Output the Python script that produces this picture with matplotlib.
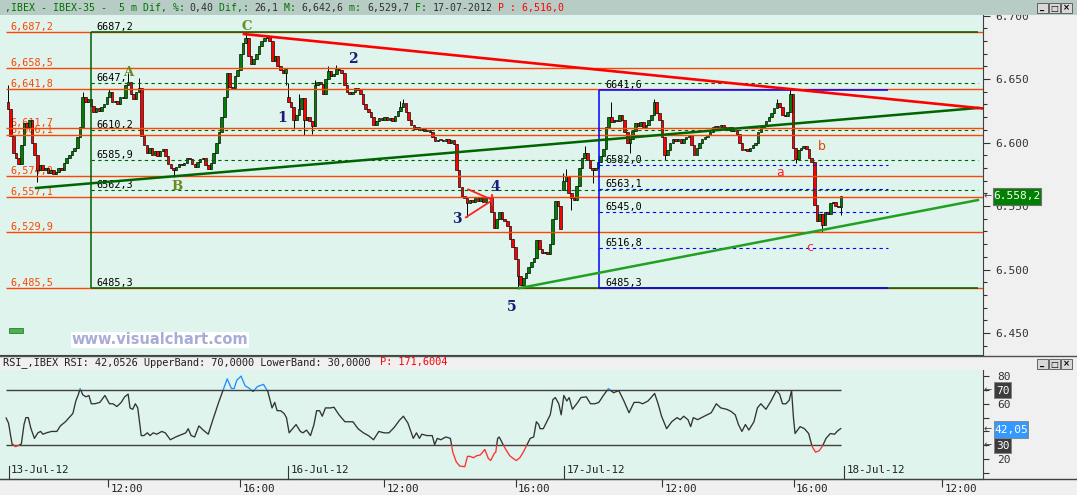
import numpy as np
import matplotlib
matplotlib.use("Agg")
import matplotlib.pyplot as plt
from matplotlib.patches import Rectangle
from matplotlib.ticker import FixedLocator, MultipleLocator, FuncFormatter

W, H = 1077, 495
MONO = "DejaVu Sans Mono"

# IBEX-35, 5 minute bars from 13-Jul-12 09:00 to the 17-Jul-12 close (bar index on x)
closes = [
    6626, 6605, 6592, 6588, 6583, 6598, 6615, 6612, 6618, 6600, 6590, 6578,
    6582, 6578, 6580, 6576, 6578, 6575, 6577, 6580, 6578, 6584, 6588, 6590,
    6593, 6596, 6604, 6612, 6636, 6632, 6634, 6629, 6624, 6627, 6625, 6628,
    6630, 6636, 6640, 6632, 6633, 6630, 6636, 6635, 6645, 6648, 6638, 6634,
    6640, 6643, 6605, 6598, 6592, 6596, 6590, 6593, 6589, 6593, 6595, 6589,
    6583, 6580, 6578, 6581, 6583, 6582, 6584, 6588, 6587, 6583, 6581, 6585,
    6587, 6588, 6582, 6579, 6584, 6592, 6600, 6608, 6620, 6636, 6655, 6644,
    6643, 6652, 6657, 6670, 6678, 6682, 6668, 6662, 6666, 6670, 6676, 6680,
    6682, 6683, 6680, 6664, 6668, 6660, 6657, 6655, 6658, 6632, 6628, 6618,
    6622, 6626, 6635, 6618, 6620, 6617, 6613, 6645, 6648, 6646, 6638, 6650,
    6656, 6652, 6654, 6658, 6657, 6655, 6645, 6640, 6638, 6640, 6643, 6641,
    6638, 6630, 6626, 6624, 6620, 6614, 6617, 6619, 6618, 6620, 6618, 6619,
    6617, 6621, 6625, 6628, 6631, 6624, 6618, 6614, 6611, 6612, 6610, 6611,
    6609, 6610, 6608, 6604, 6601, 6602, 6602, 6601, 6603, 6600, 6602, 6599,
    6578, 6565, 6558, 6556, 6552, 6555, 6553, 6556, 6554, 6556, 6553, 6556,
    6557, 6545, 6533, 6540, 6545, 6540, 6538, 6534, 6524, 6518, 6508, 6495,
    6488, 6493, 6497, 6502, 6506, 6509, 6523, 6516, 6513, 6514, 6512, 6520,
    6540, 6554, 6550, 6532, 6570, 6574, 6560, 6556, 6555, 6566, 6580, 6588,
    6592, 6586, 6580, 6578, 6580, 6585, 6589, 6595, 6612, 6620, 6616, 6618,
    6617, 6622, 6618, 6608, 6600, 6603, 6609, 6615, 6613, 6616, 6612, 6614,
    6618, 6622, 6632, 6623, 6618, 6604, 6590, 6594, 6600, 6603, 6601, 6603,
    6600, 6603, 6604, 6606, 6598, 6590, 6596, 6600, 6603, 6604, 6606, 6608,
    6612, 6613, 6612, 6614, 6612, 6610, 6612, 6609, 6610, 6607, 6600, 6594,
    6595, 6593, 6596, 6598, 6600, 6608, 6612, 6614, 6617, 6620, 6623, 6627,
    6631, 6628, 6622, 6621, 6624, 6638, 6596, 6587, 6594, 6596, 6597, 6595,
    6588, 6585, 6551, 6538, 6544, 6535, 6545, 6544, 6552, 6553, 6550, 6549,
    6558.2,
]
first_open = 6632
session_opens = {105: 6636, 208: 6563}
highs = {0: 6645, 28: 6640, 38: 6642, 45: 6655, 49: 6651, 89: 6686, 97: 6685,
         105: 6647, 109: 6638, 115: 6649, 120: 6660, 123: 6661, 147: 6633,
         148: 6634, 208: 6576, 209: 6579, 216: 6597, 226: 6632, 242: 6634,
         288: 6634, 293: 6642.6}
lows = {11: 6569, 62: 6573, 104: 6645, 107: 6611, 111: 6606, 114: 6607,
        172: 6541, 191: 6485.3, 211: 6547, 219: 6568, 233: 6592, 246: 6586,
        295: 6584, 305: 6529.7, 312: 6543}

# RSI(14): bar position, value
rsi_pos = [-0.7, 0.2, 1.5, 2.8, 4.1, 5.0, 6.0, 6.7, 7.6, 8.6, 9.9, 11.2, 12.2, 13.1,
           14.4, 16.3, 18.3, 19.6, 21.5, 23.4, 24.3, 25.4, 26.4, 27.0, 28.0, 29.2,
           30.3, 31.2, 32.5, 34.4, 36.3, 38.0, 39.3, 40.8, 42.4, 43.7, 45.0, 45.7,
           46.7, 47.7, 48.6, 49.9, 50.9, 52.2, 53.2, 54.4, 55.7, 57.6, 58.9, 60.8,
           62.8, 65.4, 66.6, 67.5, 68.6, 69.9, 71.5, 73.1, 75.0, 77.0, 78.9, 80.6,
           82.1, 83.7, 84.7, 85.7, 87.3, 88.8, 90.1, 91.8, 93.5, 95.7, 97.3, 98.9,
           99.9, 100.8, 102.1, 103.4, 104.3, 105.3, 106.6, 107.9, 109.5, 110.5,
           111.8, 113.3, 114.6, 115.6, 116.7, 117.7, 118.9, 120.8, 122.1, 124.0,
           126.2, 127.9, 129.2, 131.1, 133.1, 135.0, 136.9, 138.9, 140.8, 142.7,
           144.7, 146.6, 148.1, 149.8, 151.8, 153.0, 154.1, 155.0, 156.9, 158.9,
           159.8, 160.8, 162.1, 164.0, 165.7, 166.6, 167.9, 169.2, 171.1, 172.1,
           173.0, 174.3, 175.6, 176.9, 178.6, 179.9, 180.8, 182.1, 182.7, 183.4,
           184.0, 185.3, 186.3, 187.9, 189.2, 190.4, 191.7, 193.0, 194.3, 195.6,
           196.9, 197.9, 198.8, 199.3, 200.5, 201.8, 203.1, 204.1, 205.0, 206.3,
           207.2, 208.2, 209.3, 210.2, 211.4, 213.4, 214.6, 216.6, 218.2, 219.8,
           221.3, 223.0, 224.9, 226.8, 228.8, 230.7, 232.6, 234.5, 236.4, 237.7,
           239.7, 240.9, 242.2, 243.5, 244.8, 246.7, 248.6, 250.6, 251.8, 253.1,
           254.7, 255.7, 256.7, 258.3, 260.8, 263.4, 265.3, 267.0, 269.2, 270.8,
           272.4, 273.6, 274.9, 276.2, 277.5, 279.4, 280.7, 282.0, 283.9, 285.8,
           287.8, 289.0, 290.1, 291.4, 292.6, 293.5, 294.2, 294.8, 296.7, 298.3,
           299.9, 301.2, 302.5, 303.8, 305.1, 306.4, 308.0, 309.6, 310.8, 311.9]
rsi_val = [49.7, 46, 31, 29, 30, 31, 45, 50, 50, 42, 35, 39, 40, 38,
           39, 40, 40, 44, 47, 51, 53, 62, 67, 71, 66.5, 65,
           66, 60, 60, 61, 66, 60, 60, 58, 61, 65, 67, 57,
           56, 60, 57, 37, 37, 39, 37, 39, 38, 40, 39, 34,
           36, 38, 39, 42, 37, 36, 44, 41, 38, 50, 61, 70,
           78, 71, 71, 77, 80, 73, 71.5, 69, 72.5, 74, 69, 57,
           61, 55, 55, 53, 50, 39, 42, 45, 40, 39,
           41, 37, 45, 55, 55, 51, 57, 57, 57.5, 52,
           47, 47, 47, 42, 39, 37, 34, 40, 39, 39,
           43, 48, 51, 46, 35, 39, 35, 38, 37, 37,
           30.5, 35, 34, 36, 35, 25, 18, 15, 14.5, 22,
           22, 21, 22.5, 23, 27, 20.5, 19, 24, 25, 35,
           36, 31, 27.5, 22.5, 20.5, 19, 21, 25, 30, 35,
           36, 47, 45, 42, 42, 47, 52, 63, 64.5, 60,
           52, 66, 62, 64.5, 56, 61, 64.5, 65, 60, 60,
           61, 66, 71, 68, 69.5, 62, 53.5, 61, 61, 60,
           62, 64.5, 67.5, 60, 51, 42, 47, 50, 48.5, 51,
           48.5, 43.5, 50, 48.5, 51, 53.5, 60, 57, 56, 54.5,
           52, 45, 40, 45, 41, 47, 57, 60, 56, 62,
           69.5, 67, 60, 60, 62.5, 69.5, 50, 38.5, 43.5, 42,
           38.5, 29, 25, 26, 29.5, 35, 38.5, 38, 40.5, 42.05]

# horizontal support / resistance levels (orange) with their labels
levels = [6687.2, 6658.5, 6641.8, 6611.7, 6606.1, 6574.0, 6557.1, 6529.9, 6485.5]
level_labels = ["6,687,2", "6,658,5", "6,641,8", "6,611,7", "6,606,1",
                "6,574,0", "6,557,1", "6,529,9", "6,485,5"]

# Fibonacci boxes: anchor bars, top/bottom, inner levels, labels top->bottom
fib1_bars = (31.1, 363.3)
fib1_top, fib1_bot = 6687.2, 6485.3
fib1_levels = [6647.0, 6610.2, 6585.9, 6562.3]
fib1_labels = ["6687,2", "6647,", "6610,2", "6585,9", "6562,3", "6485,3"]
fib2_bars = (221.3, 329.6)
fib2_top, fib2_bot = 6641.6, 6485.3
fib2_levels = [6582.0, 6563.1, 6545.0, 6516.8]
fib2_labels = ["6641,6", "6582,0", "6563,1", "6545,0", "6516,8", "6485,3"]

# trend lines (bar, price) end points
red_trend = ([88.4, 365.2], [6685.4, 6626.8])
dkgreen_trend = ([10.5, 363.3], [6564.2, 6627.2])
ltgreen_trend = ([191.4, 363.3], [6485.3, 6554.7])
wedge_bars = [172.4, 181.5, 171.5]
wedge_prices = [6563.1, 6554.7, 6541.1]

# wave labels
abc_text = ["A", "B", "C"]
abc_bar = [44.9, 63.3, 89.5]
abc_price = [6655.5, 6565.0, 6691.7]
num_text = ["1", "2", "3", "4", "5"]
num_bar = [102.5, 129.1, 168.0, 182.4, 188.8]
num_price = [6619.0, 6665.5, 6540.0, 6565.2, 6470.5]
small_text = ["a", "b", "c"]
small_bar = [289.1, 304.9, 300.4]
small_price = [6576.0, 6596.5, 6517.0]
small_color = ["#ff2020", "#e84000", "#ff2050"]

# time axis
time_labels = ["12:00", "16:00", "12:00", "16:00", "12:00", "16:00", "12:00"]
time_pos = [37.4, 86.9, 140.9, 190.1, 245.0, 294.3, 349.8]
day_labels = ["13-Jul-12", "16-Jul-12", "17-Jul-12", "18-Jul-12"]
day_pos = [0.2, 104.9, 208.3, 313.1]

XMIN, XMAX = -3.0, 365.2
MINT = "#dff4ed"
ORANGE = "#ff4500"


def fx(px):
    return px / W


def fy(py):
    return 1 - py / H


fig = plt.figure(figsize=(W / 100, H / 100), dpi=100, facecolor="#f0f0f0")
ax = fig.add_axes([0, fy(355), fx(983), (355 - 15) / H], facecolor=MINT)
ax2 = fig.add_axes([0, fy(478.5), fx(983), (478.5 - 370) / H], facecolor=MINT)

# ---- candles
idx = np.arange(len(closes))
c = np.array(closes, dtype=float)
o = np.concatenate([[first_open], c[:-1]])
for k, v in session_opens.items():
    o[k] = v
hi = np.maximum(o, c)
lo = np.minimum(o, c)
for k, v in highs.items():
    hi[k] = v
for k, v in lows.items():
    lo[k] = v
up = c >= o
ax.vlines(idx, lo, hi, color="black", lw=0.7, zorder=2)
body_h = np.maximum(np.abs(c - o), 0.9)
ax.bar(idx, body_h, bottom=np.minimum(o, c), width=0.95,
       color=np.where(up, "#008000", "#ff0000"), edgecolor="black",
       linewidth=0.45, zorder=2.2)

# ---- levels
ax.hlines(levels, -0.75, XMAX, color=ORANGE, lw=1.0, zorder=3)
for lv, lb in zip(levels, level_labels):
    ax.text(1.0, lv, lb, color=ORANGE, fontsize=7.3, family=MONO,
            ha="left", va="bottom", zorder=1.5)

# fib box 1 (dark green)
x0, x1 = fib1_bars
ax.hlines([fib1_top, fib1_bot], x0, x1, color="#006000", lw=1.1, zorder=3.2)
ax.vlines(x0, fib1_bot, fib1_top, color="#006000", lw=1.1, zorder=3.2)
ax.hlines(fib1_levels, x0, x1, color="#006000", lw=0.8,
          linestyles=(0, (3, 3)), zorder=3.1)
for lv, lb in zip([fib1_top] + fib1_levels + [fib1_bot], fib1_labels):
    ax.text(x0 + 2.1, lv, lb, color="black", fontsize=7.3, family=MONO,
            ha="left", va="bottom", zorder=1.6)

# fib box 2 (blue)
x0, x1 = fib2_bars
ax.hlines([fib2_top, fib2_bot], x0, x1, color="#0000ff", lw=1.1, zorder=3.3)
ax.vlines(x0, fib2_bot, fib2_top, color="#0000ff", lw=1.1, zorder=3.3)
ax.hlines(fib2_levels, x0, x1, color="#0000ff", lw=0.8,
          linestyles=(0, (3, 3)), zorder=3.1)
for lv, lb in zip([fib2_top] + fib2_levels + [fib2_bot], fib2_labels):
    ax.text(x0 + 2.3, lv, lb, color="black", fontsize=7.3, family=MONO,
            ha="left", va="bottom", zorder=1.6)

# trend lines
ax.plot(*dkgreen_trend, color="#006400", lw=1.8, zorder=4)
ax.plot(*ltgreen_trend, color="#22a022", lw=1.8, zorder=4)
ax.plot(*red_trend, color="#ff0000", lw=1.9, zorder=4.1)
ax.plot(wedge_bars, wedge_prices, color="#ff2020", lw=1.3, zorder=4)
ax.plot([wedge_bars[1] - 0.4] * 2, [wedge_prices[1] - 4, wedge_prices[1] + 4],
        color="#ff2020", lw=1.3, zorder=4)

for t, b, p in zip(abc_text, abc_bar, abc_price):
    ax.text(b, p, t, color="#6b8a1c", fontsize=9.5, family="DejaVu Serif",
            weight="bold", ha="center", va="center", zorder=6)
for t, b, p in zip(num_text, num_bar, num_price):
    ax.text(b, p, t, color="#1c1c78", fontsize=10, family="DejaVu Serif",
            weight="bold", ha="center", va="center", zorder=6)
for t, b, p, col in zip(small_text, small_bar, small_price, small_color):
    ax.text(b, p, t, color=col, fontsize=9, ha="center", va="center", zorder=6)

ax.set_xlim(XMIN, XMAX)
ax.set_ylim(6432.7, 6700.4)
ax.yaxis.tick_right()
ax.yaxis.set_major_locator(MultipleLocator(50))
ax.yaxis.set_minor_locator(MultipleLocator(10))
ax.yaxis.set_major_formatter(FuncFormatter(
    lambda v, p: f"{int(round(v)) // 1000}.{int(round(v)) % 1000:03d}"))
ax.tick_params(axis="y", which="major", length=5, width=0.8, colors="#333333",
               labelsize=8, pad=4)
ax.tick_params(axis="y", which="minor", length=3, width=0.8, colors="#333333")
ax.tick_params(axis="x", bottom=False, labelbottom=False)
for lab in ax.get_yticklabels():
    lab.set_family(MONO)
for s in ["top", "left"]:
    ax.spines[s].set_visible(False)
for s in ["right", "bottom"]:
    ax.spines[s].set_color("#404040")

# ---- RSI panel
ax2.hlines([70, 30], -0.75, 312, color="#404040", lw=1.0, zorder=2)
for col, y0, y1 in [("#333333", 30, 70), ("#1e8fff", 70, 100), ("#ff3030", 0, 30)]:
    ln, = ax2.plot(rsi_pos, rsi_val, color=col, lw=0.95, zorder=3)
    ln.set_clip_path(Rectangle((XMIN, y0), XMAX - XMIN, y1 - y0,
                               transform=ax2.transData))
ax2.set_xlim(XMIN, XMAX)
ax2.set_ylim(6.0, 84.4)
ax2.yaxis.tick_right()
ax2.yaxis.set_major_locator(FixedLocator(list(range(10, 90, 10))))
ax2.yaxis.set_major_formatter(FuncFormatter(
    lambda v, p: str(int(v)) if int(round(v)) in (20, 60, 80) else ""))
ax2.tick_params(axis="y", length=4, width=0.8, colors="#333333", labelsize=8, pad=6)
for lab in ax2.get_yticklabels():
    lab.set_family(MONO)
ax2.set_xticks(time_pos)
ax2.tick_params(axis="x", length=6, width=0.8, colors="#333333", labelbottom=False)
xt = ax2.get_xaxis_transform()
for p, lb in zip(time_pos, time_labels):
    ax2.text(p + 0.9, -0.1, lb, transform=xt, ha="left", va="center",
             fontsize=7.8, family=MONO, color="#222222")
for p, lb in zip(day_pos, day_labels):
    ax2.plot([p, p], [0, 0.115], transform=xt, color="#333333", lw=0.8,
             clip_on=False)
    ax2.text(p + 0.9, 0.075, lb, transform=xt, ha="left", va="center",
             fontsize=7.8, family=MONO, color="#222222")
for s in ["top", "left"]:
    ax2.spines[s].set_visible(False)
for s in ["right", "bottom"]:
    ax2.spines[s].set_color("#404040")


# ---- window chrome drawn in figure pixels
def pbox(x0, y0, x1, y1, **kw):
    r = Rectangle((fx(x0), fy(y1)), fx(x1) - fx(x0), fy(y0) - fy(y1),
                  transform=fig.transFigure, **kw)
    fig.add_artist(r)
    return r


def ptext(x, y, s, **kw):
    kw.setdefault("family", MONO)
    kw.setdefault("zorder", 12)
    fig.text(fx(x), fy(y), s, **kw)


pbox(0, 0, W, 15, facecolor="#b8ccc6", edgecolor="none", zorder=10)
pbox(0, 356, W, 369.5, facecolor="#f0f0f0", edgecolor="none", zorder=10)
fig.add_artist(plt.Line2D([0, 1], [fy(355.5)] * 2, color="#505050", lw=1.0,
                          transform=fig.transFigure, zorder=11))
fig.add_artist(plt.Line2D([0, 1], [fy(478.5)] * 2, color="#404040", lw=1.0,
                          transform=fig.transFigure, zorder=11))

green_txt, dark_txt, red_txt = "#007000", "#303030", "#ff0000"
header = [(",IBEX - IBEX-35 -  5 m Dif, %: ", green_txt), ("0,40", dark_txt),
          (" Dif,: ", green_txt), ("26,1", dark_txt), (" M: ", green_txt),
          ("6,642,6", dark_txt), (" m: ", green_txt), ("6,529,7", dark_txt),
          (" F: ", green_txt), ("17-07-2012", dark_txt), (" P : 6,516,0", red_txt)]
cw = 7.1 * 100 / 72 * 0.6021
n = 0
for s, col in header:
    ptext(5 + n * cw, 8, s, color=col, fontsize=7.1, va="center", ha="left")
    n += len(s)
rsi_header = [("RSI_,IBEX RSI: 42,0526 UpperBand: 70,0000 LowerBand: 30,0000 ", "#202020"),
              ("P: 171,6004", red_txt)]
cw2 = 7.4 * 100 / 72 * 0.6021
n = 0
for s, col in rsi_header:
    ptext(3 + n * cw2, 362.5, s, color=col, fontsize=7.4, va="center", ha="left")
    n += len(s)

for yb in (3, 359):
    for i, sym in enumerate(["_", "\u25a1", "\u00d7"]):
        bx = 1037 + i * 12
        pbox(bx, yb, bx + 11, yb + 10, facecolor="#d8d8d8", edgecolor="#505050",
             lw=0.6, zorder=11)
        ptext(bx + 5.5, yb + 5, sym, color="black", fontsize=6, ha="center",
              va="center", family="DejaVu Sans", weight="bold")

# last price tag and RSI tags
pbox(993, 188, 1041, 205, facecolor="#008000", edgecolor="#707070", lw=0.8, zorder=11)
ptext(1017, 196.5, "6.558,2", color="white", fontsize=8, ha="center", va="center")
ptext(988, 196, "\u2190", color="#404040", fontsize=7, ha="center", va="center",
      family="DejaVu Sans")
for (y0, y1, s, col, x1) in [(382, 398, "70", "#3c3c3c", 1011),
                             (437.5, 453, "30", "#3c3c3c", 1011),
                             (421, 437.5, "42,05", "#3399ff", 1028)]:
    pbox(994, y0, x1, y1, facecolor=col, edgecolor="#808080", lw=0.6, zorder=11)
    ptext((994 + x1) / 2, (y0 + y1) / 2 + 0.5, s, color="white", fontsize=8,
          ha="center", va="center")
    ptext(988, (y0 + y1) / 2, "\u2190", color="#404040", fontsize=7,
          ha="center", va="center", family="DejaVu Sans")

# small green marker and watermark
pbox(9, 328, 23, 333, facecolor="#4caf50", edgecolor="#2e7d32", lw=0.6, zorder=11)
fig.text(fx(160), fy(340), "www.visualchart.com", fontsize=10.5, weight="bold",
         color="#a9add6", ha="center", va="center", zorder=12,
         bbox=dict(facecolor="white", edgecolor="none", pad=0.6))

fig.savefig("out.png", dpi=100, facecolor=fig.get_facecolor())
